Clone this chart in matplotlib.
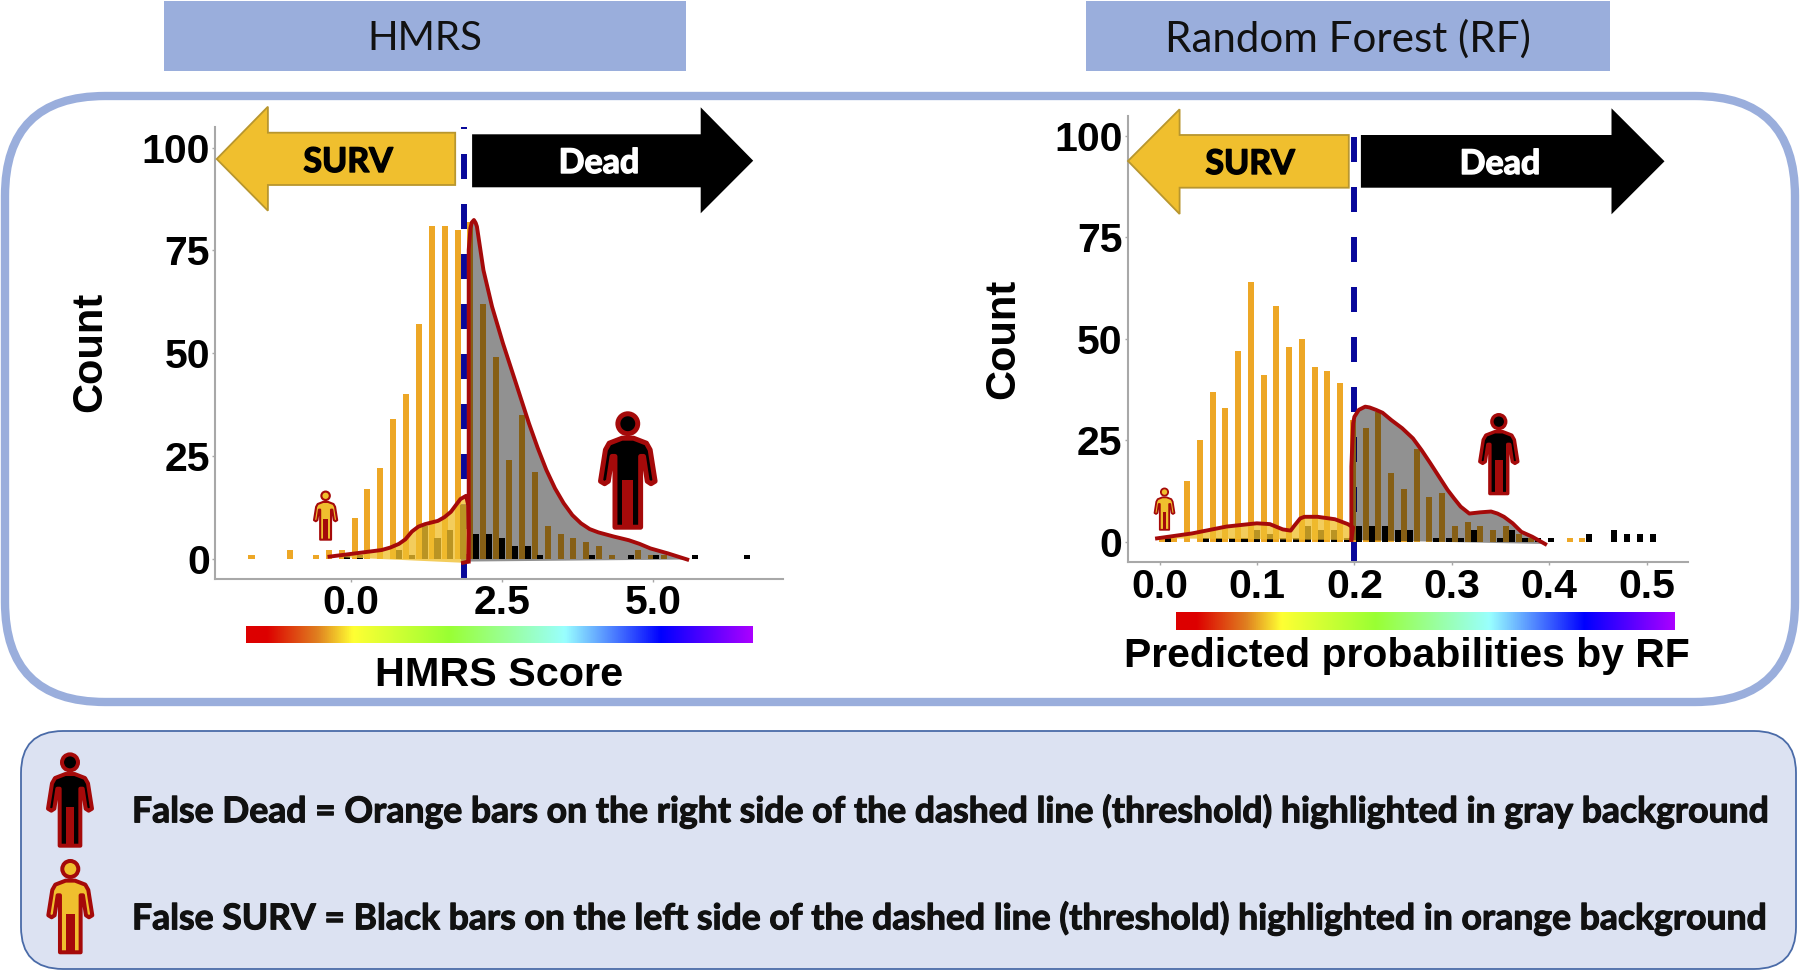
import matplotlib
matplotlib.use('Agg')
import numpy as np
import matplotlib.pyplot as plt
import matplotlib.patheffects as pe
from matplotlib.colors import LinearSegmentedColormap
from matplotlib.patches import Polygon, Rectangle, Circle, FancyBboxPatch

plt.rcParams['lines.scale_dashes'] = False

# HMRS histogram
hmrs_bins = [-1.600, -1.387, -1.174, -0.960, -0.747, -0.534, -0.321, -0.108, 0.106, 0.319,
             0.532, 0.745, 0.958, 1.172, 1.385, 1.598, 1.811, 2.024, 2.238, 2.451,
             2.664, 2.877, 3.090, 3.304, 3.517, 3.730, 3.943, 4.156, 4.370, 4.583,
             4.796, 5.009, 5.222, 5.436, 5.649, 5.862, 6.075, 6.288, 6.502]
hmrs_surv = [1, 0, 0, 2, 0, 1, 2, 2, 10, 17, 22, 34, 40, 57, 81, 81, 80, 82, 62, 49,
             24, 35, 21, 8, 6, 5, 4, 3, 1, 0, 2, 1, 1, 0, 0, 0, 0, 0, 0]
hmrs_dead = [0, 0, 0, 0, 0, 0, 0, 1, 1, 0, 0, 2, 1, 8, 5, 7, 13, 6, 6, 5,
             3, 3, 1, 0, 0, 0, 1, 0, 0, 1, 0, 1, 0, 0, 1, 0, 0, 0, 1]
hmrs_threshold = 1.863
hmrs_left_x = [-0.356, -0.141, 0.075, 0.29, 0.505, 0.649, 0.793, 0.9, 1.008, 1.116, 1.224, 1.331, 1.439,
               1.547, 1.654, 1.74, 1.812, 1.906, 1.941, 1.949, 1.941, 1.855]
hmrs_left_y = [0.5, 0.9, 1.3, 1.7, 2.1, 2.7, 3.6, 4.7, 6.6, 7.8, 8.4, 8.8, 9.2,
               10.1, 11.4, 13.1, 14.5, 15.3, 13, 6.2, -0.7, -1]
hmrs_right_x = [1.949, 1.949, 1.977, 2.0, 2.035, 2.064, 2.085, 2.193, 2.336, 2.516, 2.731, 2.947, 3.09, 3.234,
                3.378, 3.521, 3.665, 3.808, 3.952, 4.096, 4.347, 4.598, 4.778, 4.957, 5.244, 5.567]
hmrs_right_y = [-0.7, 75.1, 80.4, 81.8, 82.4, 81.7, 80.8, 70.2, 61.3, 52.4, 42.7, 32.9, 27, 21.6,
                17.1, 13.5, 10.6, 8.6, 7.2, 6.4, 5.4, 4.5, 3.6, 2.5, 1.3, -0.2]

# RF histogram
rf_bins = [0.0053, 0.0184, 0.0315, 0.0446, 0.0577, 0.0708, 0.0838, 0.0969, 0.1100, 0.1231,
           0.1362, 0.1493, 0.1624, 0.1755, 0.1886, 0.2017, 0.2147, 0.2278, 0.2409, 0.2540,
           0.2671, 0.2802, 0.2933, 0.3064, 0.3195, 0.3326, 0.3456, 0.3587, 0.3718, 0.3849,
           0.3980, 0.4111, 0.4242, 0.4373, 0.4504, 0.4635, 0.4766, 0.4896, 0.5027]
rf_surv = [1, 1, 15, 25, 37, 33, 47, 64, 41, 58, 48, 50, 43, 42, 39, 30, 28, 32, 17, 13,
           23, 11, 12, 4, 5, 4, 3, 4, 2, 1, 0, 0, 1, 1, 0, 0, 0, 0, 0]
rf_dead = [1, 0, 0, 1, 1, 1, 1, 3, 2, 1, 1, 4, 3, 3, 1, 4, 4, 4, 3, 3,
           0, 1, 1, 1, 3, 0, 1, 3, 1, 1, 1, 0, 0, 2, 0, 3, 2, 2, 2]
rf_threshold = 0.2
rf_left_x = [-0.0027, 0.033, 0.0686, 0.0997, 0.1131, 0.1264, 0.1345, 0.1376, 0.1443, 0.1487, 0.1621, 0.1799, 0.1932, 0.1986, 0.1968]
rf_left_y = [0.9, 2.1, 3.8, 4.6, 4.4, 3.1, 2.8, 3.8, 5.8, 6.2, 6.2, 5.6, 4.4, 3.6, 0.5]
rf_right_x = [0.1968, 0.1968, 0.1986, 0.1999, 0.2044, 0.211, 0.2155, 0.2222, 0.2288, 0.2378, 0.2489, 0.26, 0.2689, 0.2778,
              0.2867, 0.2956, 0.3023, 0.309, 0.3179, 0.329, 0.3402, 0.3468, 0.3535, 0.3624, 0.3713, 0.3825, 0.3958]
rf_right_y = [0.5, 18.5, 29.2, 30.8, 32.5, 33.3, 33.1, 32.5, 31.8, 30, 28, 25.5, 22.6, 19.4,
              16.1, 12.8, 10.7, 8.7, 7, 7.3, 7.5, 7, 6.2, 4.6, 2.5, 1.3, -0.5]

count_ticks = [0, 25, 50, 75, 100]
hmrs_ticks = [0.0, 2.5, 5.0]
rf_ticks = [0.0, 0.1, 0.2, 0.3, 0.4, 0.5]

W, H = 1800, 972
ORANGE = '#EDA726'
YELLOW = '#F0BF2E'
RED = '#A50A0A'
NAVY = '#08089A'
PANEL = '#9AAEDC'
GRAY_LINE = '#A8A8A8'
BOLD_NUM = 'Liberation Sans'
CAL = 'Lato'

rainbow = LinearSegmentedColormap.from_list('rb', [(0, '#DD0000'), (0.04, '#DD0000'), (0.14, '#E08020'),
                                                   (0.21, '#FFFF33'), (0.4, '#99FF33'), (0.63, '#99FFFF'),
                                                   (0.82, '#0000FF'), (1, '#AA00FF')])

fig = plt.figure(figsize=(W / 100, H / 100), dpi=100, facecolor='white')


def box_axes(left, top, right, bottom):
    return fig.add_axes([left / W, 1 - bottom / H, (right - left) / W, (bottom - top) / H])


def histogram(ax, bins, surv, dead, width, off, threshold, lx, ly, rx, ry, xlim, ylim, xticks, fmt):
    bins = np.array(bins)
    ax.set_xlim(*xlim)
    ax.set_ylim(*ylim)
    ax.axvline(threshold, color=NAVY, lw=4.3, linestyle=(0, (18, 18)), dash_capstyle='butt', zorder=1)
    ax.bar(bins - off, surv, width=width, color=ORANGE, linewidth=0, zorder=2)
    ax.bar(bins + off, dead, width=width, color='black', linewidth=0, zorder=2)
    # left density in yellow, right density in gray
    ax.fill(lx, ly, color=YELLOW, alpha=0.78, linewidth=0, zorder=3)
    ax.fill(rx, ry, color='black', alpha=0.43, linewidth=0, zorder=3)
    ax.plot(lx, ly, color=RED, lw=2.8, solid_joinstyle='round', zorder=4)
    ax.plot(rx, ry, color=RED, lw=2.8, solid_joinstyle='round', zorder=4)
    for side in ['top', 'right']:
        ax.spines[side].set_visible(False)
    for side in ['left', 'bottom']:
        ax.spines[side].set_color(GRAY_LINE)
        ax.spines[side].set_linewidth(1.5)
    ax.set_yticks(count_ticks)
    ax.set_xticks(xticks)
    ax.set_xticklabels([fmt % t for t in xticks])
    ax.tick_params(colors=GRAY_LINE, length=2, width=1, pad=2)
    for lab in ax.get_xticklabels() + ax.get_yticklabels():
        lab.set_color('black')
        lab.set_fontsize(29.5)
        lab.set_fontweight('bold')
        lab.set_family(BOLD_NUM)
    ax.patch.set_alpha(0)


ax1 = box_axes(215.4, 126.7, 782.6, 578.7)
histogram(ax1, hmrs_bins, hmrs_surv, hmrs_dead, 0.1, 0.047, hmrs_threshold,
          hmrs_left_x, hmrs_left_y, hmrs_right_x, hmrs_right_y,
          (-2.245, 7.146), (-4.87, 105.1), hmrs_ticks, '%.1f')

ax2 = box_axes(1128, 116, 1688.3, 562)
histogram(ax2, rf_bins, rf_surv, rf_dead, 0.0062, 0.0033, rf_threshold,
          rf_left_x, rf_left_y, rf_right_x, rf_right_y,
          (-0.0325, 0.5427), (-4.92, 104.8), rf_ticks, '%.1f')

# everything else is placed in pixels on a full-figure layer
ov = fig.add_axes([0, 0, 1, 1], zorder=5)
ov.set_xlim(0, W)
ov.set_ylim(H, 0)
ov.axis('off')


def heavier(col, w=0.7):
    return [pe.withStroke(linewidth=w, foreground=col)]


def person(cx, top, height, fill):
    s = height / 285
    lw = height * 0.042 * 0.72
    body = [(-14, 64), (-45, 76), (-54, 92), (-66, 168), (-56, 174), (-47, 168), (-38, 108), (-31, 108), (-31, 279),
            (31, 279), (31, 108), (38, 108), (47, 168), (56, 174), (66, 168), (54, 92), (45, 76), (14, 64)]
    ov.add_patch(Polygon([(cx + x * s, top + y * s) for x, y in body], closed=True, facecolor=fill,
                         edgecolor=RED, lw=lw, joinstyle='round', zorder=6))
    ov.add_patch(Rectangle((cx - 13 * s, top + 164 * s), 26 * s, 115 * s, facecolor=RED, edgecolor='none', zorder=7))
    ov.add_patch(Circle((cx, top + 29 * s), 24 * s, facecolor=fill, edgecolor=RED, lw=lw, zorder=7))


def left_arrow(tip_x, tip_y, head_x, head_top, head_bot, sh_top, sh_bot, end_x):
    pts = [(tip_x, tip_y), (head_x, head_top), (head_x, sh_top), (end_x, sh_top), (end_x, sh_bot), (head_x, sh_bot), (head_x, head_bot)]
    ov.add_patch(Polygon(pts, closed=True, facecolor=YELLOW, edgecolor='#B8962E', lw=1.3, zorder=6))


def right_arrow(start_x, sh_top, sh_bot, head_x, head_top, head_bot, tip_x, tip_y):
    pts = [(start_x, sh_top), (head_x, sh_top), (head_x, head_top), (tip_x, tip_y), (head_x, head_bot), (head_x, sh_bot), (start_x, sh_bot)]
    ov.add_patch(Polygon(pts, closed=True, facecolor='black', edgecolor='none', zorder=6))


# title boxes
for x0, x1, label, size in [(164, 686, 'HMRS', 29), (1086, 1610, 'Random Forest (RF)', 30.3)]:
    ov.add_patch(Rectangle((x0, 1), x1 - x0, 70, facecolor=PANEL, edgecolor='none'))
    ov.text((x0 + x1) / 2, 39, label, family=CAL, fontsize=size, ha='center', va='center', color='#111111')

# big rounded panels
ov.add_patch(FancyBboxPatch((5 + 100, 96 + 100), 1790 - 200, 606 - 200, boxstyle='round,pad=100,rounding_size=100',
                            facecolor='none', edgecolor=PANEL, lw=6))
ov.add_patch(FancyBboxPatch((21 + 42, 731 + 42), 1775 - 84, 238 - 84, boxstyle='round,pad=42,rounding_size=42',
                            facecolor='#DCE2F2', edgecolor='#4A6BA8', lw=1.3))

# arrows
left_arrow(216.7, 159, 267.9, 106.7, 210.7, 132.7, 185, 455.2)
right_arrow(472.1, 134.3, 187.3, 700.7, 107.3, 213.3, 753.2, 160.7)
left_arrow(1128, 161, 1179.6, 109.3, 214, 135, 187.7, 1348.8)
right_arrow(1360.9, 135, 187.7, 1611.5, 108.3, 214.3, 1664.5, 161.3)
for x, y, label, col in [(348, 162, 'SURV', 'black'), (599, 163, 'Dead', 'white'),
                         (1250, 164, 'SURV', 'black'), (1500, 164, 'Dead', 'white')]:
    ov.text(x, y, label, family=CAL, fontweight='bold', fontsize=24.5, ha='center', va='center', color=col, zorder=8,
            path_effects=heavier(col, 1.0))

# people
person(627.8, 411.7, 118, 'black')
person(325.6, 490.7, 50, YELLOW)
person(1498.8, 413.3, 82, 'black')
person(1164.5, 487.7, 43, YELLOW)
person(70, 752.7, 95, 'black')
person(70.3, 859.3, 95, YELLOW)

# colour bars and axis titles
gradient = np.linspace(0, 1, 256).reshape(1, -1)
ov.imshow(gradient, cmap=rainbow, extent=(246.2, 752.4, 643, 626), aspect='auto', zorder=2)
ov.imshow(gradient, cmap=rainbow, extent=(1175.5, 1674, 630, 612), aspect='auto', zorder=2)
ov.set_xlim(0, W)
ov.set_ylim(H, 0)
ov.text(499, 675, 'HMRS Score', family=BOLD_NUM, fontweight='bold', fontsize=29.8, ha='center', va='center')
ov.text(1407, 656, 'Predicted probabilities by RF', family=BOLD_NUM, fontweight='bold', fontsize=29.4, ha='center', va='center')
ov.text(90, 352, 'Count', family=BOLD_NUM, fontweight='bold', fontsize=30, rotation=90, ha='center', va='center')
ov.text(1003, 339, 'Count', family=BOLD_NUM, fontweight='bold', fontsize=30, rotation=90, ha='center', va='center')

# legend lines
ov.text(132, 811, 'False Dead = Orange bars on the right side of the dashed line (threshold) highlighted in gray background',
        family=CAL, fontweight='bold', fontsize=25.6, ha='left', va='center', color='#111111', zorder=8,
        path_effects=heavier('#111111', 0.8))
ov.text(132, 918, 'False SURV = Black bars on the left side of the dashed line (threshold) highlighted in orange background',
        family=CAL, fontweight='bold', fontsize=25.6, ha='left', va='center', color='#111111', zorder=8,
        path_effects=heavier('#111111', 0.8))

fig.savefig('out.png', dpi=100)
